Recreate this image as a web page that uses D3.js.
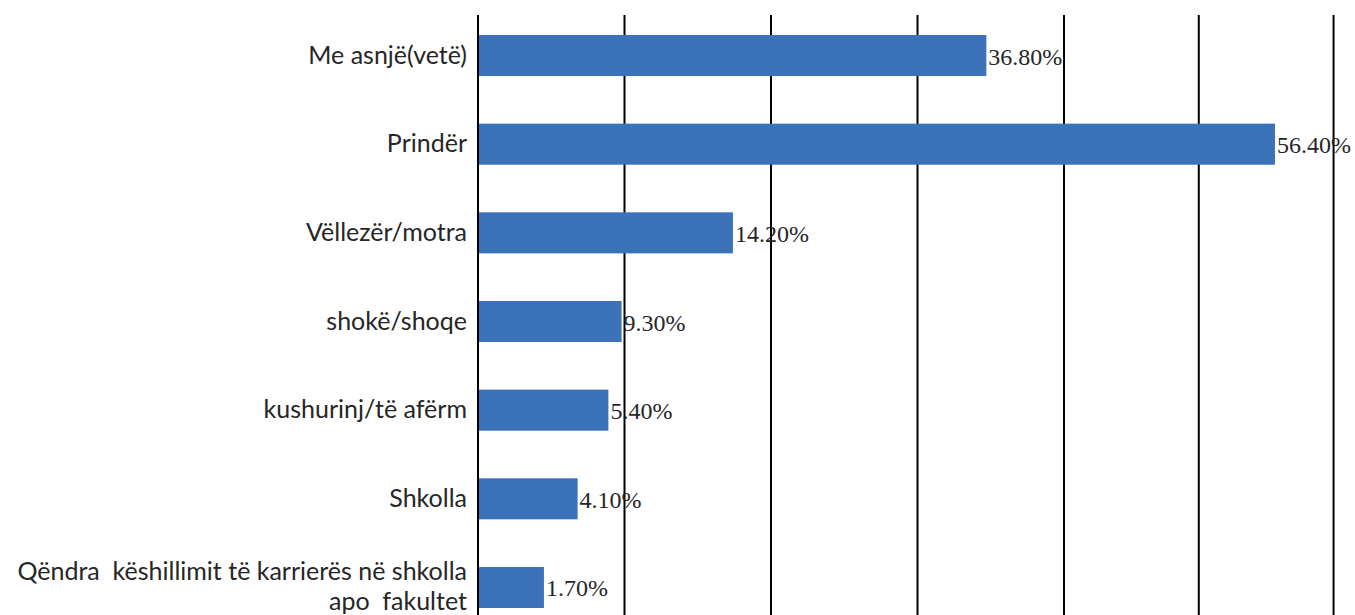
<!DOCTYPE html>
<html>
<head>
<meta charset="utf-8">
<script src="https://cdn.jsdelivr.net/npm/d3@7"></script>
<style>
  body { margin: 0; background: #fff; }
  .cat { font-family: "Lato", "Noto Sans", sans-serif; font-size: 25px; fill: #262626; white-space: pre; }
  .val { font-family: "Liberation Serif", "DejaVu Serif", serif; font-size: 24px; fill: #262626; }
</style>
</head>
<body>
<div id="container"></div>
<script>
// categories, top to bottom
var categories = [
  "Me asnjë(vetë)",
  "Prindër",
  "Vëllezër/motra",
  "shokë/shoqe",
  "kushurinj/të afërm",
  "Shkolla",
  "Qëndra  këshillimit të karrierës në shkolla|apo  fakultet"
];
// bar lengths as drawn (gridline units)
var barLength = [34.7, 54.4, 17.4, 9.8, 8.9, 6.8, 4.5];
// the labels printed next to the bars
var shownLabel = ["36.80%", "56.40%", "14.20%", "9.30%", "5.40%", "4.10%", "1.70%"];
// vertical gridlines
var gridValues = [0, 10, 20, 30, 40, 49.2, 58.4];

const width = 1355;
const height = 615;

const xScale = d3.scaleLinear()
    .domain([0, 60])
    .range([478, 478 + 60 * 14.65]);

const yScale = d3.scaleBand()
    .domain(d3.range(categories.length))
    .range([35, 608])
    .paddingInner(0.537)
    .paddingOuter(0);

const svg = d3.select("#container").append("svg")
    .attr("width", width)
    .attr("height", height);

// gridlines
svg.selectAll("line.grid")
  .data(gridValues)
  .enter().append("line")
  .attr("class", "grid")
  .attr("x1", d => xScale(d))
  .attr("x2", d => xScale(d))
  .attr("y1", 15)
  .attr("y2", height)
  .attr("stroke", "#000")
  .attr("stroke-width", 2);

// bars
svg.selectAll("rect.bar")
  .data(barLength)
  .enter().append("rect")
  .attr("class", "bar")
  .attr("x", xScale(0) + 1)
  .attr("y", (d, i) => yScale(i))
  .attr("width", d => xScale(d) - xScale(0) - 1)
  .attr("height", yScale.bandwidth())
  .attr("fill", "#3c72b9");

// value labels
svg.selectAll("text.val")
  .data(shownLabel)
  .enter().append("text")
  .attr("class", "val")
  .attr("x", (d, i) => xScale(barLength[i]) + 2)
  .attr("y", (d, i) => yScale(i) + yScale.bandwidth() / 2 + 9)
  .text(d => d);

// category labels
svg.selectAll("text.cat")
  .data(categories)
  .enter().append("text")
  .attr("class", "cat")
  .attr("text-anchor", "end")
  .attr("x", 467)
  .attr("y", (d, i) => {
    var lines = d.split("|");
    return yScale(i) + yScale.bandwidth() / 2 + 8 - (lines.length - 1) * 15;
  })
  .each(function(d) {
    var lines = d.split("|");
    d3.select(this).selectAll("tspan")
      .data(lines)
      .enter().append("tspan")
      .attr("x", 467)
      .attr("dy", (l, j) => j === 0 ? 0 : 30)
      .text(l => l);
  });
</script>
</body>
</html>
